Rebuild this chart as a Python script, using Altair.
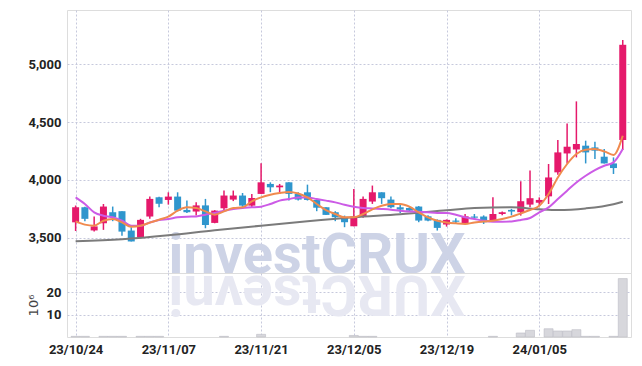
import altair as alt
import pandas as pd

# ---------------- data ----------------
date_labels = ["23/10/24", "23/11/07", "23/11/21", "23/12/05", "23/12/19", "24/01/05"]
label_idx = [0, 10, 20, 30, 40, 50]

opens = [3635, 3765, 3565, 3627, 3722, 3731, 3564, 3506, 3685, 3851,
         3828, 3857, 3742, 3728, 3781, 3630, 3756, 3831, 3866, 3779,
         3880, 3966, 3937, 3980, 3880, 3894, 3828, 3765, 3722, 3673,
         3601, 3685, 3814, 3894, 3831, 3765, 3759, 3771, 3687, 3656,
         3616, 3650, 3621, 3685, 3685, 3650, 3707, 3742, 3722, 3788,
         3804, 3859, 4066, 4229, 4264, 4296, 4281, 4201, 4143, 4345]
highs = [3780, 3770, 3685, 3793, 3771, 3731, 3593, 3665, 3857, 3855,
         3894, 3894, 3823, 3808, 3837, 3740, 3909, 3909, 3888, 3880,
         4145, 3980, 3966, 3980, 3894, 3960, 3828, 3765, 3731, 3693,
         3923, 3857, 3952, 3894, 3857, 3788, 3770, 3775, 3695, 3660,
         3660, 3670, 3707, 3707, 3695, 3851, 3728, 3751, 3989, 4081,
         3850, 4138, 4345, 4488, 4678, 4339, 4330, 4267, 4195, 5207]
lows = [3560, 3645, 3555, 3570, 3645, 3520, 3470, 3506, 3665, 3765,
        3788, 3730, 3715, 3693, 3584, 3627, 3736, 3818, 3757, 3765,
        3880, 3895, 3895, 3823, 3823, 3823, 3731, 3699, 3645, 3593,
        3601, 3675, 3794, 3794, 3757, 3715, 3731, 3636, 3645, 3564,
        3598, 3630, 3621, 3664, 3621, 3645, 3695, 3695, 3693, 3765,
        3778, 3793, 4046, 4143, 4195, 4143, 4181, 4143, 4052, 4259]
closes = [3765, 3665, 3600, 3771, 3680, 3555, 3470, 3656, 3837, 3795,
          3857, 3736, 3722, 3781, 3612, 3736, 3866, 3866, 3779, 3845,
          3980, 3937, 3952, 3880, 3831, 3828, 3761, 3699, 3679, 3636,
          3685, 3837, 3894, 3843, 3765, 3745, 3736, 3650, 3650, 3587,
          3656, 3640, 3687, 3675, 3636, 3707, 3722, 3728, 3817, 3843,
          3828, 4022, 4238, 4287, 4310, 4238, 4253, 4143, 4103, 5166]
volumes = [0.3, 0.3, 0, 0.3, 0.3, 0.3, 0, 0.3, 0.3, 0.3,
           0, 0, 0, 0, 0, 0, 0.3, 0, 0, 0,
           1.2, 0, 0, 0, 0, 0, 0, 0, 0, 0,
           0.7, 0.3, 0.3, 0, 0, 0, 0, 0, 0, 0,
           0, 0, 0, 0, 0, 0.3, 0, 0, 1.8, 3.0,
           0, 3.7, 2.7, 2.7, 3.3, 0.3, 0.3, 0, 0.3, 26.2]

ma_orange = [3643, 3615, 3606, 3649, 3664, 3634, 3597, 3606, 3632, 3658,
             3684, 3735, 3764, 3759, 3729, 3701, 3729, 3759, 3764, 3816,
             3850, 3873, 3888, 3897, 3884, 3850, 3793, 3741, 3707, 3678,
             3678, 3707, 3747, 3778, 3793, 3793, 3770, 3721, 3678, 3649,
             3634, 3626, 3621, 3634, 3643, 3649, 3664, 3684, 3712, 3741,
             3778, 3879, 4022, 4138, 4224, 4261, 4267, 4247, 4216, 4382]
ma_purple = [3850, 3793, 3721, 3692, 3678, 3649, 3606, 3606, 3634, 3655,
             3664, 3678, 3684, 3686, 3701, 3716, 3735, 3750, 3759, 3764,
             3770, 3793, 3822, 3836, 3850, 3850, 3836, 3822, 3807, 3787,
             3770, 3759, 3755, 3750, 3744, 3735, 3729, 3727, 3721, 3716,
             3716, 3701, 3678, 3664, 3649, 3641, 3641, 3643, 3655, 3672,
             3721, 3764, 3836, 3908, 3979, 4037, 4086, 4123, 4152, 4267]
gray_idx = [0, 5, 10, 15, 20, 25, 30, 35, 40, 43, 47, 50, 52, 55, 58, 59]
ma_gray = [3471, 3490, 3524, 3567, 3606, 3645, 3679, 3705, 3739, 3759,
           3764, 3748, 3741, 3755, 3791, 3813]

# ---------------- styling ----------------
PINK = "#e5196b"
BLUE = "#2f96cd"
ORANGE = "#f08a4e"
PURPLE = "#cc5be6"
GRAY = "#7b7b7b"
GRID = "#c6c9dc"
FRAME = "#cfd0da"
LBL_FONT = "Roboto"
LBL_SIZE = 13

W = 564
H_TOP = 263
H_VOL = 64
X_DOM = [-0.39, 59.35]

n = len(closes)
df = pd.DataFrame({"i": list(range(n)), "open": opens, "high": highs,
                   "low": lows, "close": closes, "vol": volumes,
                   "ma1": ma_orange, "ma2": ma_purple})
gdf = pd.DataFrame({"i": gray_idx, "ma3": ma_gray})
wm = pd.DataFrame({"t": ["investCRUX"]})
wm2 = pd.DataFrame({"t": ["investCRUX"[::-1]]})

label_expr = "{" + ",".join(f"'{k}':'{v}'" for k, v in zip(label_idx, date_labels)) + "}[datum.value]"

x_top = alt.X("i:Q", scale=alt.Scale(domain=X_DOM, nice=False, zero=False),
              axis=alt.Axis(values=label_idx, labels=False, ticks=False, domain=False,
                            grid=True, gridColor=GRID, gridDash=[2, 2], title=None))
x_bot = alt.X("i:Q", scale=alt.Scale(domain=X_DOM, nice=False, zero=False),
              axis=alt.Axis(values=label_idx, labelExpr=label_expr, ticks=False, domain=False,
                            grid=True, gridColor=GRID, gridDash=[2, 2], title=None,
                            labelFont=LBL_FONT, labelFontSize=LBL_SIZE, labelFontWeight="bold",
                            labelColor="#222222", labelPadding=6))

yscale = alt.Scale(domain=[3198, 5466], nice=False, zero=False)
yaxis = alt.Axis(values=[3500, 4000, 4500, 5000], format=",.0f", ticks=False, domain=False,
                 grid=True, gridColor=GRID, gridDash=[2, 2], title=None,
                 labelFont=LBL_FONT, labelFontSize=LBL_SIZE, labelFontWeight="bold",
                 labelColor="#222222", labelPadding=6)

base = alt.Chart(df)

watermark = alt.Chart(wm).mark_text(
    font="Roboto", fontSize=56, fontWeight="bold", color="#cdd3e6",
    align="center", baseline="alphabetic"
).encode(text="t:N", x=alt.value(250), y=alt.value(H_TOP))

wicks = base.mark_rule(strokeWidth=1.5).encode(
    x=x_top,
    y=alt.Y("low:Q", scale=yscale, axis=yaxis),
    y2="high:Q",
    color=alt.condition("datum.close >= datum.open", alt.value(PINK), alt.value(BLUE)),
)
bodies = base.mark_bar(size=7).encode(
    x=x_top,
    y=alt.Y("open:Q", scale=yscale, axis=yaxis),
    y2="close:Q",
    color=alt.condition("datum.close >= datum.open", alt.value(PINK), alt.value(BLUE)),
)
gray_line = alt.Chart(gdf).mark_line(color=GRAY, strokeWidth=2, interpolate="monotone").encode(
    x=x_top, y=alt.Y("ma3:Q", scale=yscale, axis=yaxis))
purple_line = base.mark_line(color=PURPLE, strokeWidth=2, interpolate="monotone").encode(
    x=x_top, y=alt.Y("ma2:Q", scale=yscale, axis=yaxis))
orange_line = base.mark_line(color=ORANGE, strokeWidth=2, interpolate="monotone").encode(
    x=x_top, y=alt.Y("ma1:Q", scale=yscale, axis=yaxis))

top = alt.layer(watermark, wicks, bodies, gray_line, purple_line, orange_line).properties(
    width=W, height=H_TOP)

reflection = alt.Chart(wm2).mark_text(
    font="Roboto", fontSize=56, fontWeight="bold", color="#e7e8f2",
    align="center", baseline="alphabetic", angle=180
).encode(text="t:N", x=alt.value(250), y=alt.value(3))

vol_bars = base.transform_filter("datum.vol > 0").mark_bar(
    size=9, color="#d7d7dc", stroke="#bcbcc4", strokeWidth=0.6).encode(
    x=x_bot,
    y=alt.Y("vol:Q", scale=alt.Scale(domain=[0, 28.7], nice=False),
            axis=alt.Axis(values=[10, 20], ticks=False, domain=False, grid=True,
                          gridColor=GRID, gridDash=[2, 2], title="10⁶",
                          titleFont="DejaVu Sans", titleFontSize=13, titleFontWeight="normal",
                          titleColor="#444444", titlePadding=6,
                          labelFont=LBL_FONT, labelFontSize=LBL_SIZE, labelFontWeight="bold",
                          labelColor="#222222", labelPadding=6)),
)
bottom = alt.layer(reflection, vol_bars).properties(width=W, height=H_VOL)

chart = alt.vconcat(top, bottom, spacing=0, bounds="flush").properties(
    padding={"left": 18, "top": 1, "right": 0, "bottom": 2}
).configure_view(stroke=FRAME, strokeWidth=1).configure(background="white")

chart.save("out.html", embed_options={"renderer": "svg", "actions": False})
